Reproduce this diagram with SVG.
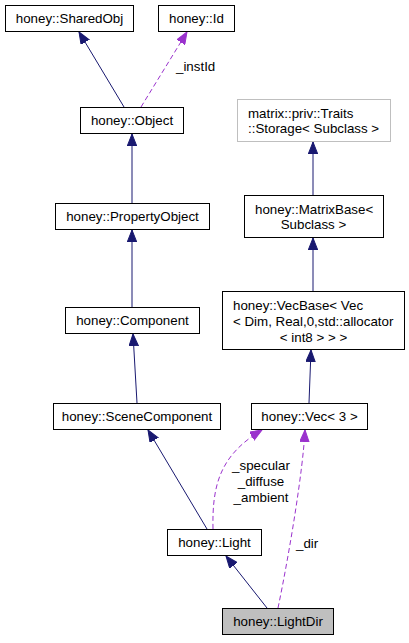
<svg xmlns="http://www.w3.org/2000/svg" width="409" height="643" viewBox="0 0 409 643">
<style>
text{font-family:"Liberation Sans",Arial,sans-serif;font-size:13.33px;fill:#000}
.c{text-anchor:middle}
.box{fill:#fff;stroke:#000;stroke-width:1}
.gray{fill:#fff;stroke:#bfbfbf;stroke-width:1}
.sel{fill:#bfbfbf;stroke:#000;stroke-width:1}
.inh{fill:none;stroke:#191970;stroke-width:1}
.use{fill:none;stroke:#9a32cd;stroke-width:1;stroke-dasharray:5,3}
</style>
<defs>
<marker id="ab" markerUnits="userSpaceOnUse" markerWidth="13" markerHeight="10" refX="12" refY="4.75" orient="auto">
<path d="M0,0 L12,4.75 L0,9.5 z" fill="#191970" stroke="#191970" stroke-width="1"/>
</marker>
<marker id="ap" markerUnits="userSpaceOnUse" markerWidth="13" markerHeight="10" refX="12" refY="4.75" orient="auto">
<path d="M0,0 L12,4.75 L0,9.5 z" fill="#9a32cd" stroke="#9a32cd" stroke-width="1"/>
</marker>
</defs>
<g id="edges">
<path class="inh" d="M124,107 L79,32" marker-end="url(#ab)"/>
<path class="use" d="M141,107 L187,32" marker-end="url(#ap)"/>
<text x="176" y="71">_instId</text>
<path class="inh" d="M132,203 L132,134" marker-end="url(#ab)"/>
<path class="inh" d="M132,307 L132,230" marker-end="url(#ab)"/>
<path class="inh" d="M137,403 L133,334" marker-end="url(#ab)"/>
<path class="inh" d="M313,195 L313,142" marker-end="url(#ab)"/>
<path class="inh" d="M313,291 L313,238" marker-end="url(#ab)"/>
<path class="inh" d="M309,403 L311,350" marker-end="url(#ab)"/>
<path class="inh" d="M207,529 L148,430" marker-end="url(#ab)"/>
<path class="inh" d="M267,608 L226,556" marker-end="url(#ab)"/>
<path class="use" d="M213,529 C212,485 220,455 262,430" marker-end="url(#ap)"/>
<text class="c" x="261" y="469.5">_specular</text>
<text class="c" x="261" y="485.5">_diffuse</text>
<text class="c" x="261" y="501.5">_ambient</text>
<path class="use" d="M278,608 C290,550 303,470 305,430" marker-end="url(#ap)"/>
<text x="296" y="548">_dir</text>
</g>
<g id="SharedObj"><rect class="box" x="5.5" y="5.5" width="128" height="26"/><text class="c" x="69.5" y="23">honey::SharedObj</text></g>
<g id="Id"><rect class="box" x="158.5" y="5.5" width="76" height="26"/><text class="c" x="196.5" y="23">honey::Id</text></g>
<g id="Object"><rect class="box" x="80.5" y="107.5" width="103" height="26"/><text class="c" x="132" y="125">honey::Object</text></g>
<g id="PropertyObject"><rect class="box" x="55.5" y="203.5" width="154" height="26"/><text class="c" x="132.5" y="221">honey::PropertyObject</text></g>
<g id="Component"><rect class="box" x="65.5" y="307.5" width="134" height="26"/><text class="c" x="132.5" y="325">honey::Component</text></g>
<g id="SceneComponent"><rect class="box" x="53.5" y="403.5" width="167" height="26"/><text class="c" x="137" y="421">honey::SceneComponent</text></g>
<g id="Traits"><rect class="gray" x="237.5" y="99.5" width="153" height="42"/><text x="248" y="118">matrix::priv::Traits</text><text x="248" y="133">::Storage&lt; Subclass &gt;</text></g>
<g id="MatrixBase"><rect class="box" x="244.5" y="195.5" width="139" height="42"/><text x="255" y="214">honey::MatrixBase&lt;</text><text class="c" x="313.5" y="229">Subclass &gt;</text></g>
<g id="VecBase"><rect class="box" x="222.5" y="291.5" width="182" height="58"/><text x="233" y="310">honey::VecBase&lt; Vec</text><text x="233" y="326">&lt; Dim, Real,0,std::allocator</text><text class="c" x="313.5" y="342">&lt; int8 &gt; &gt; &gt;</text></g>
<g id="Vec3"><rect class="box" x="251.5" y="403.5" width="116" height="26"/><text class="c" x="309.5" y="421">honey::Vec&lt; 3 &gt;</text></g>
<g id="Light"><rect class="box" x="167.5" y="529.5" width="94" height="26"/><text class="c" x="214.5" y="547">honey::Light</text></g>
<g id="LightDir"><rect class="sel" x="222.5" y="608.5" width="111" height="26"/><text class="c" x="278" y="626">honey::LightDir</text></g>
</svg>
